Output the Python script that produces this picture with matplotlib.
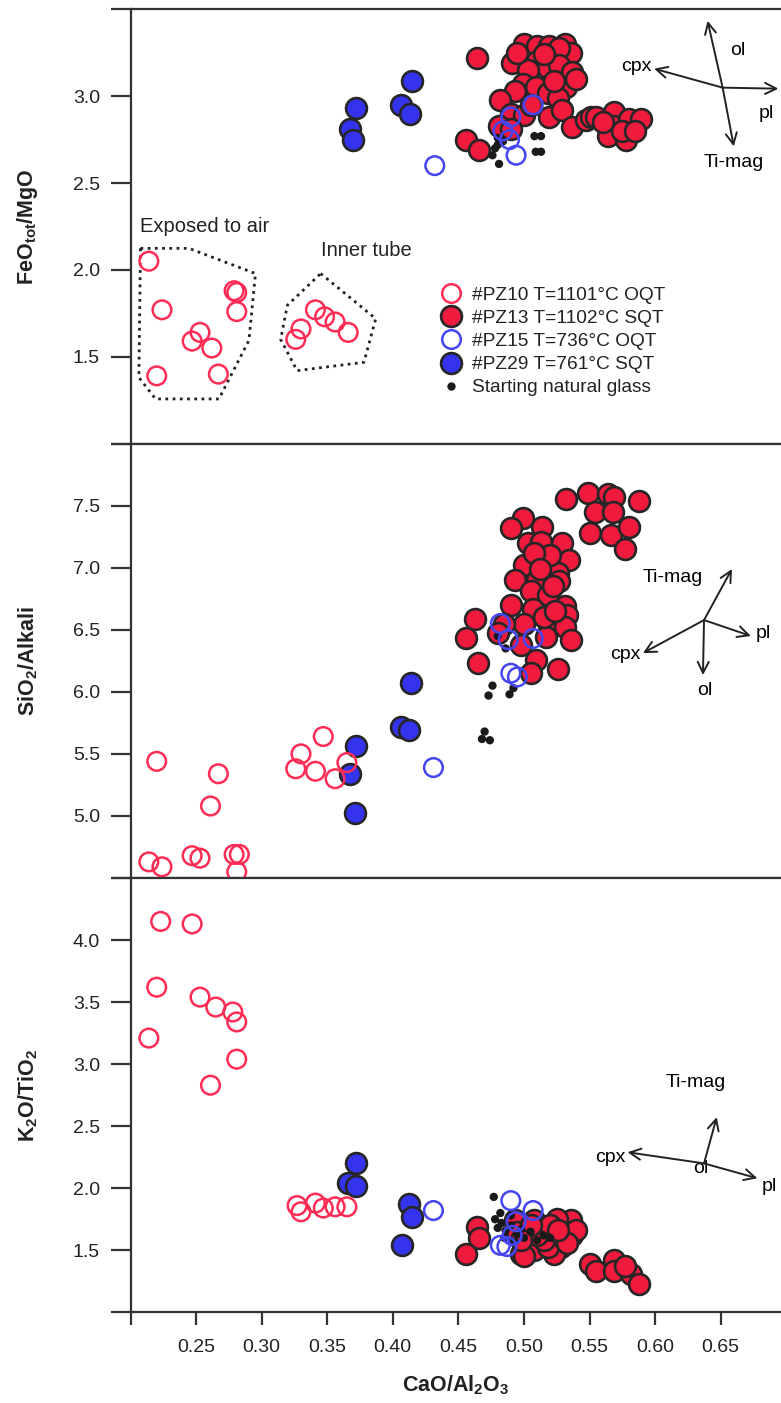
import matplotlib
matplotlib.use("Agg")
import matplotlib.pyplot as plt
from matplotlib.lines import Line2D

plt.rcParams['font.family'] = ['Liberation Sans', 'DejaVu Sans']
plt.rcParams['mathtext.fontset'] = 'custom'
plt.rcParams['mathtext.rm'] = 'Liberation Sans'
plt.rcParams['mathtext.bf'] = 'Liberation Sans:bold'
plt.rcParams['mathtext.it'] = 'Liberation Sans:italic'

# ---------------- data ----------------
# Panel 1: FeOtot/MgO vs CaO/Al2O3
p1_pz10_x = [0.214, 0.224, 0.279, 0.281, 0.281, 0.253, 0.247, 0.262, 0.220, 0.267,
             0.330, 0.326, 0.341, 0.348, 0.356, 0.366]
p1_pz10_y = [2.05, 1.77, 1.88, 1.87, 1.76, 1.64, 1.59, 1.55, 1.39, 1.40,
             1.66, 1.60, 1.77, 1.73, 1.70, 1.64]
p1_pz13_x = [0.464, 0.500, 0.510, 0.519, 0.531, 0.536, 0.527, 0.491, 0.510, 0.518,
             0.527, 0.537, 0.503, 0.499, 0.493, 0.509, 0.518, 0.532, 0.526, 0.482,
             0.490, 0.519, 0.529, 0.500, 0.481, 0.490, 0.537, 0.547, 0.551, 0.555,
             0.569, 0.569, 0.580, 0.589, 0.564, 0.578, 0.456, 0.466, 0.540, 0.515,
             0.495, 0.523, 0.505, 0.560, 0.575, 0.585]
p1_pz13_y = [3.22, 3.30, 3.29, 3.29, 3.30, 3.25, 3.28, 3.19, 3.20, 3.16,
             3.18, 3.14, 3.15, 3.07, 3.03, 3.05, 3.02, 3.05, 2.99, 2.98,
             2.90, 2.88, 2.92, 2.89, 2.83, 2.81, 2.82, 2.86, 2.88, 2.88,
             2.91, 2.83, 2.87, 2.87, 2.77, 2.75, 2.75, 2.69, 3.10, 3.24,
             3.25, 3.09, 2.95, 2.85, 2.80, 2.80]
p1_pz15_x = [0.507, 0.490, 0.484, 0.489, 0.494, 0.432]
p1_pz15_y = [2.95, 2.88, 2.80, 2.75, 2.66, 2.60]
p1_pz29_x = [0.415, 0.372, 0.406, 0.413, 0.367, 0.370]
p1_pz29_y = [3.09, 2.93, 2.95, 2.90, 2.81, 2.75]
p1_glass_x = [0.480, 0.480, 0.476, 0.481, 0.508, 0.513, 0.509, 0.484, 0.478, 0.513]
p1_glass_y = [2.76, 2.72, 2.66, 2.61, 2.77, 2.77, 2.68, 2.74, 2.70, 2.68]

# Panel 2: SiO2/Alkali vs CaO/Al2O3
p2_pz10_x = [0.214, 0.224, 0.247, 0.253, 0.279, 0.283, 0.281, 0.220, 0.267, 0.261,
             0.330, 0.326, 0.347, 0.341, 0.356, 0.365]
p2_pz10_y = [4.63, 4.59, 4.68, 4.66, 4.69, 4.69, 4.55, 5.44, 5.34, 5.08,
             5.50, 5.38, 5.64, 5.36, 5.30, 5.43]
p2_pz13_x = [0.532, 0.549, 0.564, 0.569, 0.588, 0.554, 0.568, 0.550, 0.566, 0.580,
             0.577, 0.499, 0.490, 0.514, 0.503, 0.513, 0.529, 0.534, 0.500, 0.514,
             0.526, 0.493, 0.510, 0.527, 0.505, 0.518, 0.531, 0.490, 0.507, 0.533,
             0.519, 0.531, 0.463, 0.456, 0.517, 0.536, 0.509, 0.465, 0.526, 0.505,
             0.520, 0.508, 0.522, 0.515, 0.500, 0.485, 0.480, 0.498, 0.524, 0.512]
p2_pz13_y = [7.55, 7.60, 7.59, 7.57, 7.54, 7.45, 7.45, 7.28, 7.26, 7.33,
             7.15, 7.40, 7.32, 7.33, 7.20, 7.21, 7.20, 7.06, 7.02, 7.04,
             6.96, 6.90, 6.90, 6.89, 6.81, 6.78, 6.69, 6.70, 6.67, 6.62,
             6.54, 6.52, 6.59, 6.43, 6.44, 6.42, 6.26, 6.23, 6.18, 6.15,
             7.10, 7.12, 6.85, 6.60, 6.55, 6.55, 6.47, 6.38, 6.65, 6.99]
p2_pz15_x = [0.482, 0.488, 0.507, 0.490, 0.495, 0.431]
p2_pz15_y = [6.55, 6.42, 6.43, 6.15, 6.12, 5.39]
p2_pz29_x = [0.372, 0.367, 0.371, 0.414, 0.406, 0.412]
p2_pz29_y = [5.56, 5.34, 5.02, 6.07, 5.72, 5.69]
p2_glass_x = [0.476, 0.473, 0.492, 0.489, 0.470, 0.468, 0.474, 0.480, 0.486]
p2_glass_y = [6.05, 5.97, 6.03, 5.98, 5.68, 5.62, 5.61, 6.45, 6.35]

# Panel 3: K2O/TiO2 vs CaO/Al2O3
p3_pz10_x = [0.223, 0.247, 0.220, 0.214, 0.253, 0.265, 0.278, 0.281, 0.281, 0.261,
             0.327, 0.330, 0.341, 0.347, 0.356, 0.365]
p3_pz10_y = [4.15, 4.13, 3.62, 3.21, 3.54, 3.46, 3.42, 3.34, 3.04, 2.83,
             1.86, 1.81, 1.88, 1.84, 1.85, 1.85]
p3_pz13_x = [0.464, 0.466, 0.456, 0.493, 0.498, 0.508, 0.513, 0.518, 0.531, 0.536,
             0.537, 0.528, 0.523, 0.503, 0.508, 0.518, 0.500, 0.550, 0.555, 0.569,
             0.569, 0.582, 0.588, 0.577, 0.525, 0.515, 0.530, 0.510, 0.495, 0.520,
             0.540, 0.533, 0.505, 0.526, 0.498]
p3_pz13_y = [1.69, 1.60, 1.47, 1.74, 1.47, 1.74, 1.69, 1.64, 1.69, 1.74,
             1.62, 1.53, 1.47, 1.55, 1.50, 1.53, 1.45, 1.39, 1.33, 1.42,
             1.33, 1.31, 1.23, 1.37, 1.75, 1.58, 1.60, 1.62, 1.65, 1.70,
             1.66, 1.56, 1.70, 1.66, 1.58]
p3_pz15_x = [0.490, 0.507, 0.494, 0.482, 0.487, 0.431, 0.491]
p3_pz15_y = [1.90, 1.82, 1.73, 1.54, 1.53, 1.82, 1.62]
p3_pz29_x = [0.372, 0.366, 0.372, 0.412, 0.415, 0.407]
p3_pz29_y = [2.20, 2.04, 2.02, 1.87, 1.77, 1.54]
p3_glass_x = [0.477, 0.478, 0.483, 0.480, 0.486, 0.490, 0.495, 0.500, 0.485, 0.493,
              0.505, 0.510, 0.515, 0.498, 0.520, 0.482, 0.490]
p3_glass_y = [1.93, 1.75, 1.72, 1.68, 1.66, 1.70, 1.63, 1.60, 1.60, 1.57,
              1.65, 1.58, 1.62, 1.67, 1.60, 1.80, 1.78]

legend_labels = ['#PZ10 T=1101\u00b0C OQT', '#PZ13 T=1102\u00b0C SQT',
                 '#PZ15 T=736\u00b0C OQT', '#PZ29 T=761\u00b0C SQT',
                 'Starting natural glass']
ylabels = ['FeO$_\\mathbf{tot}$/MgO', 'SiO$_\\mathbf{2}$/Alkali', 'K$_\\mathbf{2}$O/TiO$_\\mathbf{2}$']
xlabel = 'CaO/Al$_\\mathbf{2}$O$_\\mathbf{3}$'
xticks = [0.20, 0.25, 0.30, 0.35, 0.40, 0.45, 0.50, 0.55, 0.60, 0.65]
xticklabels = ['', '0.25', '0.30', '0.35', '0.40', '0.45', '0.50', '0.55', '0.60', '0.65']
ylims = [(1.0, 3.5), (4.5, 8.0), (1.0, 4.5)]
yticks = [[1.0, 1.5, 2.0, 2.5, 3.0, 3.5], [4.5, 5.0, 5.5, 6.0, 6.5, 7.0, 7.5, 8.0],
          [1.0, 1.5, 2.0, 2.5, 3.0, 3.5, 4.0, 4.5]]

# polygons (Exposed to air / Inner tube)
air_poly_x = [0.2076, 0.2445, 0.2953, 0.2903, 0.2674, 0.2191, 0.2064, 0.2076]
air_poly_y = [2.124, 2.124, 1.979, 1.594, 1.257, 1.257, 1.381, 2.124]
tube_poly_x = [0.345, 0.387, 0.378, 0.327, 0.3145, 0.3196, 0.345]
tube_poly_y = [1.979, 1.719, 1.468, 1.420, 1.600, 1.796, 1.979]

# ---------------- styles ----------------
RED = '#f01a3c'
RED_OPEN = '#ff2d55'
BLUE = '#3434ee'
BLUE_OPEN = '#4545f2'
EDGE = '#262626'
AX = '#333333'

sty_pz10 = dict(s=180, facecolors='none', edgecolors=RED_OPEN, linewidths=1.8)
sty_pz13 = dict(s=225, facecolors=RED, edgecolors=EDGE, linewidths=1.9)
sty_pz15 = dict(s=180, facecolors='none', edgecolors=BLUE_OPEN, linewidths=1.8)
sty_pz29 = dict(s=225, facecolors=BLUE, edgecolors=EDGE, linewidths=1.9)
sty_glass = dict(s=36, facecolors='#1a1a1a', edgecolors='none')

FS = 14

fig = plt.figure(figsize=(7.81, 14.03), dpi=100)
H = 1403.0
W = 781.0
left = 130.5 / W
panel_px = [(9.3, 443.6), (443.6, 878.0), (878.0, 1312.3)]
axes = []
for (t, b) in panel_px:
    ax = fig.add_axes([left, 1 - b / H, 1 - left, (b - t) / H])
    axes.append(ax)

data = [
    (p1_pz10_x, p1_pz10_y, p1_pz13_x, p1_pz13_y, p1_pz15_x, p1_pz15_y, p1_pz29_x, p1_pz29_y, p1_glass_x, p1_glass_y),
    (p2_pz10_x, p2_pz10_y, p2_pz13_x, p2_pz13_y, p2_pz15_x, p2_pz15_y, p2_pz29_x, p2_pz29_y, p2_glass_x, p2_glass_y),
    (p3_pz10_x, p3_pz10_y, p3_pz13_x, p3_pz13_y, p3_pz15_x, p3_pz15_y, p3_pz29_x, p3_pz29_y, p3_glass_x, p3_glass_y),
]

for i, ax in enumerate(axes):
    d = data[i]
    ax.scatter(d[2], d[3], zorder=3, **sty_pz13)
    ax.scatter(d[8], d[9], zorder=4, **sty_glass)
    ax.scatter(d[4], d[5], zorder=5, **sty_pz15)
    ax.scatter(d[6], d[7], zorder=6, **sty_pz29)
    ax.scatter(d[0], d[1], zorder=7, **sty_pz10)

    ax.set_xlim(0.20, 0.696)
    ax.set_ylim(*ylims[i])
    ax.set_yticks(yticks[i])
    ax.set_yticklabels(['' if (v == ylims[i][0] or v == ylims[i][1]) else f'{v:.1f}' for v in yticks[i]])
    ax.tick_params(axis='y', direction='out', length=14.4, width=1.6, color=AX,
                   labelsize=FS, pad=7.5, labelcolor='#222222')
    for s in ['top', 'bottom', 'left']:
        ax.spines[s].set_color(AX)
        ax.spines[s].set_linewidth(1.6)
    ax.spines['right'].set_visible(False)
    ax.set_ylabel(ylabels[i], fontsize=15.5, fontweight='bold', color='#222222')
    ax.yaxis.set_label_coords(-0.139, 0.5)
    if i < 2:
        ax.set_xticks([])
    else:
        ax.set_xticks(xticks)
        ax.set_xticklabels(xticklabels)
        ax.tick_params(axis='x', direction='out', length=9.4, width=1.6, color=AX,
                       labelsize=FS, pad=10, labelcolor='#222222')
        ax.set_xlabel(xlabel, fontsize=15.5, fontweight='bold', color='#222222')
        ax.xaxis.set_label_coords(0.5, -0.14)

arrow_kw = dict(arrowstyle='->', lw=1.4, color='#222222', mutation_scale=20,
                shrinkA=0, shrinkB=0)

def vec(ax, c, tip):
    ax.annotate('', xy=tip, xytext=c, arrowprops=arrow_kw, zorder=8)

# ---- panel 1 annotations
ax = axes[0]
ax.plot(air_poly_x, air_poly_y, linestyle=(0, (1, 1.6)), lw=2.0, color='#222222', zorder=2)
ax.plot(tube_poly_x, tube_poly_y, linestyle=(0, (1, 1.6)), lw=2.0, color='#222222', zorder=2)
ax.text(0.2076, 2.25, 'Exposed to air', fontsize=FS + 0.5, va='center', ha='left', color='#222222')
ax.text(0.345, 2.11, 'Inner tube', fontsize=FS + 0.5, va='center', ha='left', color='#222222')
c1 = (0.6515, 3.049)
vec(ax, c1, (0.640, 3.434))
vec(ax, c1, (0.5993, 3.158))
vec(ax, c1, (0.694, 3.043))
vec(ax, c1, (0.660, 2.711))
ax.text(0.6629, 3.26, 'ol', fontsize=FS, ha='center', va='center')
ax.text(0.5975, 3.17, 'cpx', fontsize=FS, ha='right', va='center')
ax.text(0.6845, 2.90, 'pl', fontsize=FS, ha='center', va='center')
ax.text(0.660, 2.617, 'Ti-mag', fontsize=FS, ha='center', va='center')

handles = [
    Line2D([], [], ls='none', marker='o', ms=13.4, mfc='none', mec=RED_OPEN, mew=1.8),
    Line2D([], [], ls='none', marker='o', ms=15, mfc=RED, mec=EDGE, mew=1.9),
    Line2D([], [], ls='none', marker='o', ms=13.4, mfc='none', mec=BLUE_OPEN, mew=1.8),
    Line2D([], [], ls='none', marker='o', ms=15, mfc=BLUE, mec=EDGE, mew=1.9),
    Line2D([], [], ls='none', marker='o', ms=6, mfc='#1a1a1a', mec='none'),
]
leg = ax.legend(handles, legend_labels, loc='upper left', bbox_to_anchor=(0.478, 0.362),
                frameon=False, fontsize=FS - 0.2, handlelength=0.95, handletextpad=0.65,
                labelspacing=0.3, borderpad=0, borderaxespad=0)
for t in leg.get_texts():
    t.set_color('#222222')

# ---- panel 2 annotations
ax = axes[1]
c2 = (0.6373, 6.578)
vec(ax, c2, (0.6586, 6.99))
vec(ax, c2, (0.673, 6.45))
vec(ax, c2, (0.5907, 6.312))
vec(ax, c2, (0.6365, 6.135))
ax.text(0.6135, 6.92, 'Ti-mag', fontsize=FS, ha='center', va='center')
ax.text(0.677, 6.467, 'pl', fontsize=FS, ha='left', va='center')
ax.text(0.5885, 6.30, 'cpx', fontsize=FS, ha='right', va='center')
ax.text(0.638, 6.01, 'ol', fontsize=FS, ha='center', va='center')

# ---- panel 3 annotations
ax = axes[2]
c3 = (0.6373, 2.20)
vec(ax, c3, (0.647, 2.573))
vec(ax, c3, (0.579, 2.29))
vec(ax, c3, (0.678, 2.08))
ax.text(0.631, 2.855, 'Ti-mag', fontsize=FS, ha='center', va='center')
ax.text(0.5775, 2.25, 'cpx', fontsize=FS, ha='right', va='center')
ax.text(0.687, 2.016, 'pl', fontsize=FS, ha='center', va='center')
ax.text(0.635, 2.16, 'ol', fontsize=FS, ha='center', va='center')

fig.savefig('out.png', dpi=100, facecolor='white')
